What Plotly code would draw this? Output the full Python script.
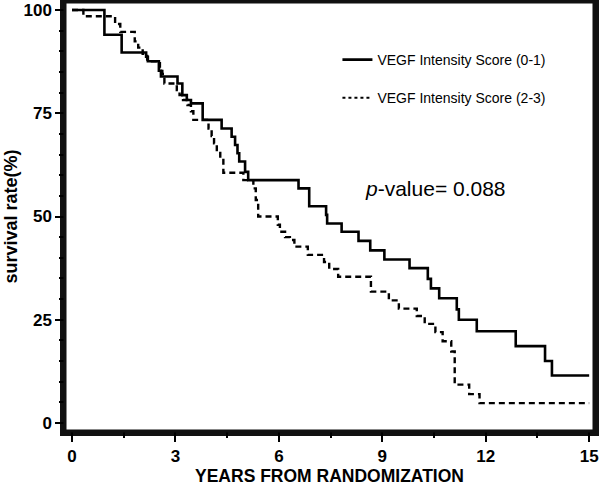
import plotly.graph_objects as go

# Kaplan-Meier steps (time in years, survival % after each event)
t_low = [0, 0.94, 1.44, 2.15, 2.20, 2.52, 2.58, 3.06, 3.20, 3.33, 3.45, 3.79, 4.34, 4.63,
         4.73, 4.80, 4.85, 5.02, 5.11, 6.57, 6.88, 7.37, 7.40, 7.82, 8.31, 8.65, 9.06,
         9.79, 10.32, 10.41, 10.65, 11.16, 11.22, 11.74, 12.87, 13.72, 13.92, 15.0]
s_low = [100, 94.0, 89.7, 88.7, 87.6, 85.3, 83.9, 82.2, 79.4, 78.2, 77.4, 73.4, 71.3, 69.3,
         67.3, 65.3, 63.3, 60.8, 58.8, 56.8, 52.5, 50.4, 48.3, 46.3, 44.1, 41.8, 39.6,
         37.5, 34.9, 32.6, 30.2, 27.5, 25.0, 22.2, 18.6, 15.0, 11.5, 11.5]

t_high = [0, 0.33, 1.25, 1.40, 1.82, 1.92, 2.05, 2.18, 2.55, 2.62, 2.68, 3.04, 3.12, 3.22,
          3.35, 3.45, 3.52, 3.96, 4.05, 4.12, 4.20, 4.30, 4.39, 4.97, 5.26, 5.33, 5.40,
          5.97, 6.03, 6.18, 6.32, 6.45, 6.84, 7.31, 7.46, 7.72, 8.67, 9.19, 9.48, 10.0,
          10.23, 10.54, 10.75, 11.0, 11.1, 11.52, 11.82, 15.0]
s_high = [100, 98.5, 96.6, 94.7, 92.4, 90.9, 89.4, 87.6, 86.0, 84.5, 82.2, 80.6, 79.4, 78.2,
          77.0, 75.5, 73.4, 71.3, 69.5, 67.7, 65.7, 64.1, 60.6, 58.8, 56.8, 54.0, 50.0,
          48.0, 46.3, 45.0, 44.3, 42.7, 40.7, 39.0, 37.3, 35.4, 31.8, 29.7, 27.7, 25.9,
          24.0, 22.0, 19.8, 17.3, 9.3, 7.0, 4.8, 4.8]

x_ticks = [0, 3, 6, 9, 12, 15]
x_minor = [0, 1.5, 3, 4.5, 6, 7.5, 9, 10.5, 12, 13.5, 15]
y_ticks = [0, 25, 50, 75, 100]
y_minor = [0, 5, 10, 15, 20, 25, 30, 35, 40, 45, 50, 55, 60, 65, 70, 75, 80, 85, 90, 95, 100]
names = ["VEGF Intensity Score (0-1)", "VEGF Intensity Score (2-3)"]

FONT = "Liberation Sans, Arial, Helvetica, sans-serif"
FRAME = "#111111"
XR = [-0.203, 15.14]
YR = [-1.94, 101.94]

fig = go.Figure()
fig.add_trace(go.Scatter(x=t_low, y=s_low, mode="lines", line_shape="hv",
                         line=dict(color="black", width=2.6), showlegend=False))
fig.add_trace(go.Scatter(x=t_high, y=s_high, mode="lines", line_shape="hv",
                         line=dict(color="black", width=2.4, dash="6px,4px"), showlegend=False))
# legend entries
fig.add_trace(go.Scatter(x=[None], y=[None], mode="lines", name=names[0], legendgroup="a",
                         line=dict(color="black", width=2.6)))
fig.add_trace(go.Scatter(x=[None], y=[None], mode="lines", name=names[1], legendgroup="b",
                         line=dict(color="black", width=2, dash="dot")))

fig.add_annotation(x=8.44, y=56.9, xref="x", yref="y", xanchor="left", yanchor="middle",
                   text="<i>p</i>-value= 0.088", showarrow=False,
                   font=dict(family=FONT, size=21, color="black"))

# plot frame (thin shape, proven to render) plus thicker axis lines
fig.add_shape(type="rect", xref="paper", yref="paper", x0=0, x1=1, y0=0, y1=1,
              line=dict(color=FRAME, width=3), layer="above")

tick_style = dict(ticks="outside", tickwidth=1.5, tickcolor="black",
                  showgrid=False, zeroline=False, automargin=False, fixedrange=True)

fig.update_layout(
    width=600, height=486,
    margin=dict(l=65, r=6, t=2, b=55),
    paper_bgcolor="white", plot_bgcolor="white",
    font=dict(family=FONT, color="black"),
    legend=dict(x=0.515, y=0.902, xanchor="left", yanchor="top",
                bgcolor="rgba(0,0,0,0)", tracegroupgap=17,
                font=dict(family=FONT, size=14, color="black")),
    xaxis=dict(range=XR, tickmode="array", tickvals=x_ticks,
               ticktext=["<b>%d</b>" % v for v in x_ticks], ticklen=6,
               showline=True, linecolor=FRAME, linewidth=4.5, mirror=True,
               tickfont=dict(family=FONT, size=17, color="black"),
               title=dict(text="<b>YEARS FROM RANDOMIZATION</b>", standoff=4,
                          font=dict(family=FONT, size=17.5, color="black")),
               **tick_style),
    xaxis2=dict(range=XR, overlaying="x", side="bottom", anchor="y", tickmode="array",
                tickvals=x_minor, showticklabels=False, ticklen=6, showline=False,
                **tick_style),
    yaxis=dict(range=YR, tickmode="array", tickvals=y_ticks,
               ticktext=["<b>%d</b>" % v for v in y_ticks], ticklen=5,
               showline=True, linecolor=FRAME, linewidth=4.5, mirror=True,
               tickfont=dict(family=FONT, size=17, color="black"),
               title=dict(text="<b>survival rate(%)</b>", standoff=3,
                          font=dict(family=FONT, size=18, color="black")),
               **tick_style),
    yaxis2=dict(range=YR, overlaying="y", side="left", anchor="x", tickmode="array",
                tickvals=y_minor, showticklabels=False, ticklen=5, showline=False,
                **tick_style),
)
# invisible trace so the overlay (minor-tick) axes are drawn
fig.add_trace(go.Scatter(x=[None], y=[None], xaxis="x2", yaxis="y2", showlegend=False,
                         hoverinfo="skip"))

fig.write_html("out.html", config={"displayModeBar": False},
               post_script="document.body.style.margin='0';")
